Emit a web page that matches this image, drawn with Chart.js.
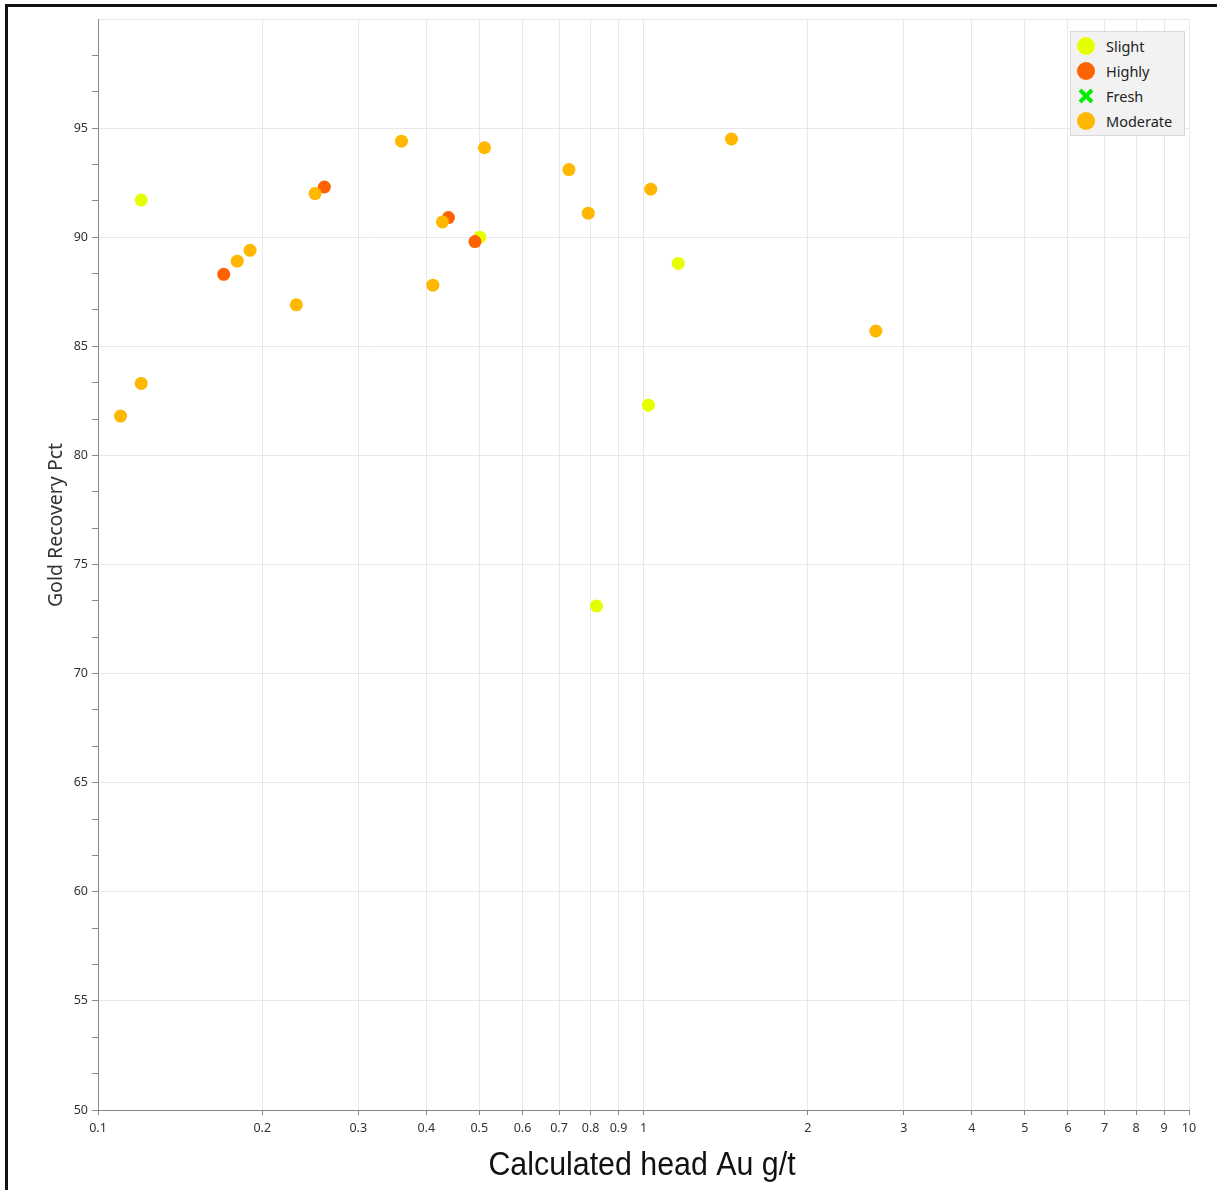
<!DOCTYPE html>
<html>
<head>
<meta charset="utf-8">
<script src="https://cdn.jsdelivr.net/npm/chart.js@4/dist/chart.umd.min.js"></script>
<style>
  body { margin: 0; background: #fff; }
  #wrap { position: relative; width: 1217px; height: 1190px; }
  #frame { position: absolute; left: 5px; top: 4px; right: -10px; bottom: -10px; border-top: 3px solid #111; border-left: 3px solid #111; pointer-events: none; }
  #legend { position: absolute; left: 1070px; top: 31px; width: 113px; height: 103px; background: #f2f2f2; border: 1px solid #d9d9d9; font-family: "Segoe UI", "Noto Sans", sans-serif; font-size: 14.5px; color: #222; }
  .item { position: absolute; left: 6px; height: 20px; display: flex; align-items: center; }
  .item span { margin-left: 11px; }
  .dot { width: 18px; height: 18px; border-radius: 50%; }
</style>
</head>
<body>
<div id="wrap">
  <canvas id="recoveryChart" width="1217" height="1190"></canvas>
  <div id="legend"></div>
  <div id="frame"></div>
</div>
<script>
// weathering classes (legend order)
const seriesNames = ['Slight', 'Highly', 'Fresh', 'Moderate'];
const seriesColors = ['#e5ff00', '#ff6200', '#00ee00', '#ffb700'];

// Calculated head Au g/t vs Gold Recovery Pct
const slightX = [0.120, 0.501, 1.158, 1.021, 0.820];
const slightY = [91.7, 90.0, 88.8, 82.3, 73.1];
const highlyX = [0.170, 0.260, 0.439, 0.491];
const highlyY = [88.3, 92.3, 90.9, 89.8];
const freshX = [];
const freshY = [];
const moderateX = [0.110, 0.120, 0.180, 0.190, 0.231, 0.250, 0.360, 0.411, 0.428, 0.511, 0.730, 0.792, 1.031, 1.45, 2.666];
const moderateY = [81.8, 83.3, 88.9, 89.4, 86.9, 92.0, 94.4, 87.8, 90.7, 94.1, 93.1, 91.1, 92.2, 94.5, 85.7];

const xTicks = [0.1, 0.2, 0.3, 0.4, 0.5, 0.6, 0.7, 0.8, 0.9, 1, 2, 3, 4, 5, 6, 7, 8, 9, 10];
const yTicks = [50, 55, 60, 65, 70, 75, 80, 85, 90, 95];

const xTitle = 'Calculated head Au g/t';
const yTitle = 'Gold Recovery Pct';

function pts(xs, ys) {
    return xs.map((x, i) => ({ x: x, y: ys[i] }));
}

const seriesData = [pts(slightX, slightY), pts(highlyX, highlyY), pts(freshX, freshY), pts(moderateX, moderateY)];
const drawOrder = [3, 1, 2, 0]; // moderate drawn on top

const tickFont = { family: '"Segoe UI", "Noto Sans", sans-serif', size: 12.5 };
const isMajor = v => Math.abs(v / 5 - Math.round(v / 5)) < 1e-6;

// axis titles, placed by hand like the original
const axisTitles = {
    id: 'axisTitles',
    afterDraw(chart) {
        const c = chart.ctx;
        c.save();
        c.fillStyle = '#111';
        c.textAlign = 'center';
        c.textBaseline = 'alphabetic';
        c.font = '33px "Liberation Sans", Arial, sans-serif';
        c.translate(642, 1175);
        c.scale(0.92, 1);
        c.fillText(xTitle, 0, 0);
        c.restore();

        c.save();
        c.fillStyle = '#333';
        c.textAlign = 'center';
        c.textBaseline = 'alphabetic';
        c.font = '19.5px "Segoe UI", "Noto Sans", sans-serif';
        c.translate(62, 525);
        c.rotate(-Math.PI / 2);
        c.fillText(yTitle, 0, 0);
        c.restore();
    }
};

const ctx = document.getElementById('recoveryChart').getContext('2d');
const recoveryChart = new Chart(ctx, {
    type: 'scatter',
    data: {
        datasets: seriesNames.map((name, i) => ({
            label: name,
            data: seriesData[i],
            backgroundColor: seriesColors[i],
            borderWidth: 0,
            pointRadius: 6.5,
            pointHoverRadius: 6.5,
            pointStyle: name === 'Fresh' ? 'crossRot' : 'circle',
            order: drawOrder[i]
        }))
    },
    plugins: [axisTitles],
    options: {
        responsive: false,
        animation: false,
        layout: { padding: { top: 19, right: 28, left: 0, bottom: 0 } },
        plugins: { legend: { display: false }, tooltip: { enabled: false } },
        scales: {
            x: {
                type: 'logarithmic',
                min: 0.1,
                max: 10,
                afterBuildTicks: s => { s.ticks = xTicks.map(v => ({ value: v })); },
                afterFit: s => { s.height = 80; },
                ticks: {
                    autoSkip: false,
                    maxRotation: 0,
                    padding: 6,
                    color: '#333',
                    font: tickFont,
                    callback: v => String(v)
                },
                grid: { color: '#e8e8e8', tickColor: '#888', tickLength: 5 },
                border: { color: '#888' }
            },
            y: {
                min: 50,
                max: 100,
                afterBuildTicks: s => {
                    const t = [];
                    for (let i = 0; i <= 30; i++) t.push({ value: 50 + i * 5 / 3 });
                    s.ticks = t;
                },
                afterFit: s => { s.width = 98; },
                ticks: {
                    autoSkip: false,
                    padding: 4,
                    color: '#333',
                    font: tickFont,
                    callback: v => (isMajor(v) && yTicks.includes(Math.round(v))) ? String(Math.round(v)) : ''
                },
                grid: {
                    color: c => isMajor(c.tick.value) ? '#e8e8e8' : 'rgba(0,0,0,0)',
                    tickColor: c => c.tick.value > 99.9 ? 'rgba(0,0,0,0)' : '#888',
                    tickLength: 6
                },
                border: { color: '#888' }
            }
        }
    }
});

// legend box
const legend = document.getElementById('legend');
seriesNames.forEach((name, i) => {
    const item = document.createElement('div');
    item.className = 'item';
    item.style.top = (4 + i * 25) + 'px';
    let mark;
    if (name === 'Fresh') {
        mark = '<svg width="18" height="18" viewBox="0 0 18 18"><path d="M3 3 L15 15 M15 3 L3 15" stroke="' + seriesColors[i] + '" stroke-width="4"/></svg>';
    } else {
        mark = '<div class="dot" style="background:' + seriesColors[i] + '"></div>';
    }
    item.innerHTML = mark + '<span>' + name + '</span>';
    legend.appendChild(item);
});
</script>
</body>
</html>
